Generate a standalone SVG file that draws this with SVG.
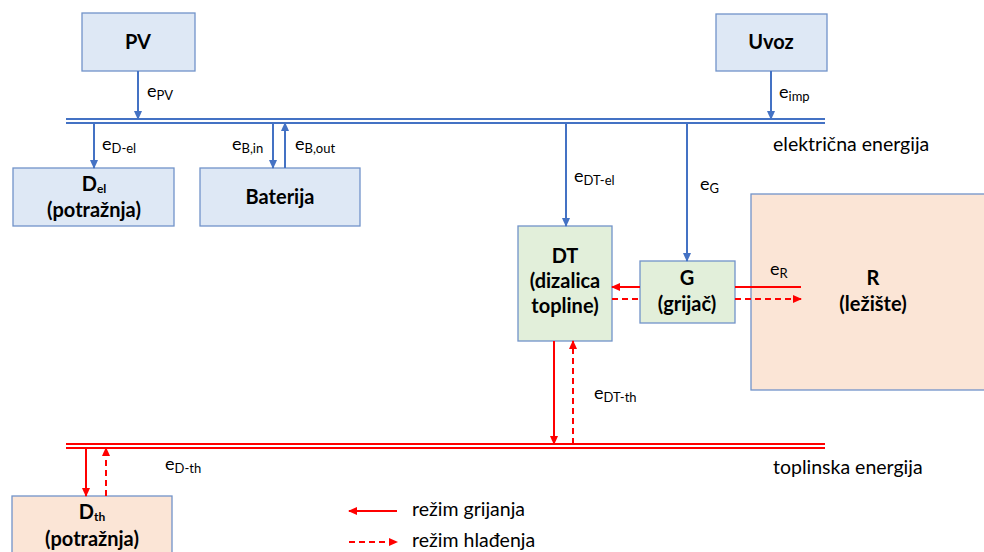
<svg xmlns="http://www.w3.org/2000/svg" width="984" height="552" viewBox="0 0 984 552">
<defs>
<style>
text{font-family:Lato,"Liberation Sans",sans-serif;fill:#000}
.nb{fill:#dee8f5;stroke:#7193c9;stroke-width:1.3}
.ng{fill:#e2efda;stroke:#7193c9;stroke-width:1.3}
.no{fill:#fbe5d6;stroke:#7193c9;stroke-width:1.3}
.t{font-size:20px;font-weight:bold;text-anchor:middle}
.l{font-size:18px}
.b{font-size:19.5px}
.s{font-size:13px}
.bl{stroke:#4472c4;stroke-width:2;fill:none}
.rd{stroke:#ff0000;stroke-width:2;fill:none}
.ds{stroke-dasharray:6,4}
</style>
<marker id="ab" markerWidth="9" markerHeight="9" refX="8" refY="4.5" orient="auto" markerUnits="userSpaceOnUse"><path d="M0,0.5 L9,4.5 L0,8.5 Z" fill="#4472c4"/></marker>
<marker id="ar" markerWidth="9" markerHeight="9" refX="8" refY="4.5" orient="auto" markerUnits="userSpaceOnUse"><path d="M0,0.5 L9,4.5 L0,8.5 Z" fill="#ff0000"/></marker>
</defs>
<rect width="984" height="552" fill="#fff"/>

<g id="buses">
<line class="bl" x1="66" y1="119" x2="825" y2="119"/>
<line class="bl" x1="66" y1="123" x2="825" y2="123"/>
<line class="rd" x1="66" y1="444" x2="825" y2="444"/>
<line class="rd" x1="66" y1="448" x2="825" y2="448"/>
<text class="b" x="773" y="151">električna energija</text>
<text class="b" x="773" y="474">toplinska energija</text>
</g>

<g id="PV"><rect class="nb" x="82" y="13" width="113" height="58"/><text class="t" x="138" y="49">PV</text></g>
<g id="Uvoz"><rect class="nb" x="716" y="14" width="111" height="57"/><text class="t" x="771" y="49">Uvoz</text></g>
<g id="Del"><rect class="nb" x="13" y="168" width="161" height="58"/><text class="t" x="94" y="191">D<tspan font-size="12" dy="2">el</tspan></text><text class="t" x="94" y="217">(potražnja)</text></g>
<g id="Baterija"><rect class="nb" x="200" y="168" width="160" height="58"/><text class="t" x="280" y="204">Baterija</text></g>
<g id="DT"><rect class="ng" x="518" y="226" width="94" height="115"/><text class="t" x="565" y="263">DT</text><text class="t" x="565" y="288">(dizalica</text><text class="t" x="565" y="313">topline)</text></g>
<g id="G"><rect class="ng" x="640" y="261" width="95" height="62"/><text class="t" x="687" y="285">G</text><text class="t" x="687" y="311">(grijač)</text></g>
<g id="R"><rect class="no" x="751" y="194" width="240" height="196"/><text class="t" x="873" y="285">R</text><text class="t" x="873" y="311">(ležište)</text></g>
<g id="Dth"><rect class="no" x="12" y="496" width="160" height="62"/><text class="t" x="92" y="519">D<tspan font-size="12" dy="2">th</tspan></text><text class="t" x="92" y="546">(potražnja)</text></g>

<g id="connectors">
<line class="bl" x1="138" y1="71" x2="138" y2="119" marker-end="url(#ab)"/>
<line class="bl" x1="771" y1="71" x2="771" y2="119" marker-end="url(#ab)"/>
<line class="bl" x1="94" y1="123" x2="94" y2="168" marker-end="url(#ab)"/>
<line class="bl" x1="273" y1="123" x2="273" y2="168" marker-end="url(#ab)"/>
<line class="bl" x1="285" y1="168" x2="285" y2="123" marker-end="url(#ab)"/>
<line class="bl" x1="566" y1="123" x2="566" y2="226" marker-end="url(#ab)"/>
<line class="bl" x1="687" y1="123" x2="687" y2="261" marker-end="url(#ab)"/>
<line class="rd" x1="640" y1="287" x2="612" y2="287" marker-end="url(#ar)"/>
<line class="rd ds" x1="612" y1="299" x2="640" y2="299"/>
<line class="rd" x1="735" y1="287" x2="801" y2="287"/>
<line class="rd ds" x1="735" y1="299" x2="801" y2="299" marker-end="url(#ar)"/>
<line class="rd" x1="554" y1="341" x2="554" y2="444" marker-end="url(#ar)"/>
<line class="rd ds" x1="573" y1="444" x2="573" y2="341" marker-end="url(#ar)"/>
<line class="rd" x1="86" y1="448" x2="86" y2="496" marker-end="url(#ar)"/>
<line class="rd ds" x1="106" y1="496" x2="106" y2="448" marker-end="url(#ar)"/>
</g>

<g id="labels">
<text class="l" x="147" y="97">e<tspan class="s" dy="3">PV</tspan></text>
<text class="l" x="779" y="98">e<tspan class="s" dy="3">imp</tspan></text>
<text class="l" x="102" y="150">e<tspan class="s" dy="3">D-el</tspan></text>
<text class="l" x="232" y="150">e<tspan class="s" dy="3">B,in</tspan></text>
<text class="l" x="295" y="150">e<tspan class="s" dy="3">B,out</tspan></text>
<text class="l" x="574" y="182">e<tspan class="s" dy="3">DT-el</tspan></text>
<text class="l" x="700" y="190">e<tspan class="s" dy="3">G</tspan></text>
<text class="l" x="770" y="275">e<tspan class="s" dy="3">R</tspan></text>
<text class="l" x="594" y="399">e<tspan class="s" dy="3">DT-th</tspan></text>
<text class="l" x="165" y="470">e<tspan class="s" dy="3">D-th</tspan></text>
</g>

<g id="legend">
<line class="rd" x1="397" y1="511" x2="349" y2="511" marker-end="url(#ar)"/>
<line class="rd ds" x1="349" y1="542" x2="397" y2="542" marker-end="url(#ar)"/>
<text class="b" x="412" y="516">režim grijanja</text>
<text class="b" x="412" y="547">režim hlađenja</text>
</g>
</svg>
